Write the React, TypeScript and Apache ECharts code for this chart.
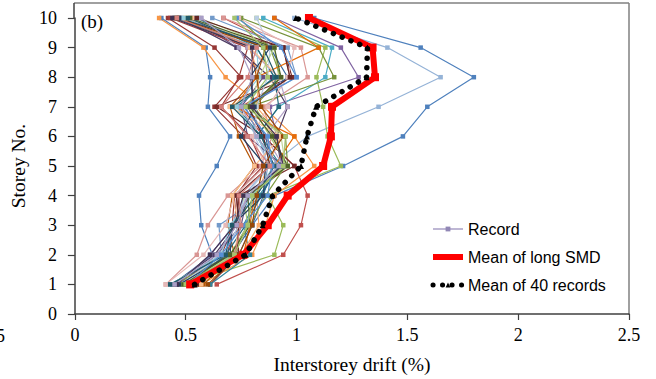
import { useEffect, useRef } from 'react';
import * as echarts from 'echarts';

const storeys = [1, 2, 3, 4, 5, 6, 7, 8, 9, 10];
const yTickValues = [0, 1, 2, 3, 4, 5, 6, 7, 8, 9, 10];
const xTickValues = [0, 0.5, 1, 1.5, 2, 2.5];

const meanLongSMD = [0.52, 0.76, 0.87, 0.96, 1.12, 1.155, 1.16, 1.354, 1.343, 1.056];
const meanOf40Records = [0.54, 0.77, 0.847, 0.892, 1.02, 1.047, 1.088, 1.316, 1.32, 0.997];

// Interstorey drift (%) of each record, storey 1 -> 10
const records = [
  [0.44, 0.62, 0.57, 0.56, 0.64, 0.70, 0.60, 0.61, 0.59, 0.39],
  [0.57, 0.74, 0.80, 0.90, 1.21, 1.48, 1.59, 1.80, 1.56, 1.08],
  [0.50, 0.68, 0.74, 0.76, 0.88, 1.05, 1.37, 1.65, 1.41, 0.99],
  [0.64, 0.94, 1.02, 1.05, 0.99, 0.85, 0.75, 0.97, 0.94, 0.67],
  [0.49, 0.90, 0.94, 0.87, 1.20, 1.14, 1.12, 1.09, 1.13, 0.82],
  [0.57, 0.80, 0.86, 0.90, 1.08, 0.99, 0.85, 0.68, 0.58, 0.38],
  [0.46, 0.66, 0.72, 0.73, 0.82, 0.76, 0.63, 0.75, 0.63, 0.42],
  [0.46, 0.61, 0.72, 0.78, 0.94, 0.91, 0.88, 1.28, 1.20, 0.90],
  [0.43, 0.68, 0.70, 0.82, 0.90, 0.82, 0.92, 1.13, 1.16, 0.85],
  [0.41, 0.55, 0.60, 0.69, 0.84, 0.89, 0.85, 1.05, 1.02, 0.67],
  [0.50, 0.70, 0.78, 0.80, 0.96, 0.95, 0.79, 1.17, 1.10, 0.75],
  [0.58, 0.72, 0.69, 0.71, 0.81, 0.74, 0.70, 0.82, 0.79, 0.47],
  [0.48, 0.66, 0.65, 0.85, 0.87, 0.83, 0.77, 1.00, 0.96, 0.62],
  [0.61, 0.74, 0.73, 0.74, 0.99, 0.85, 0.64, 0.98, 0.94, 0.45],
  [0.47, 0.64, 0.75, 0.78, 0.94, 0.78, 0.75, 0.85, 0.73, 0.53],
  [0.61, 0.79, 0.76, 0.83, 0.93, 0.84, 0.73, 0.90, 0.82, 0.55],
  [0.52, 0.70, 0.78, 0.76, 0.96, 0.88, 0.80, 0.92, 0.90, 0.56],
  [0.55, 0.75, 0.83, 0.82, 0.87, 0.93, 0.82, 0.83, 0.79, 0.50],
  [0.53, 0.71, 0.80, 0.85, 0.89, 0.86, 0.78, 0.96, 0.88, 0.48],
  [0.50, 0.69, 0.71, 0.72, 0.85, 0.79, 0.66, 0.74, 0.78, 0.43],
  [0.45, 0.70, 0.79, 0.86, 0.95, 0.90, 0.81, 0.93, 0.88, 0.74],
  [0.44, 0.63, 0.73, 0.79, 0.93, 0.91, 0.96, 0.88, 0.73, 0.47],
  [0.52, 0.68, 0.77, 0.84, 0.92, 0.82, 0.92, 0.90, 0.82, 0.45],
  [0.56, 0.76, 0.79, 0.81, 0.90, 0.99, 0.72, 0.82, 1.10, 0.90],
  [0.47, 0.67, 0.74, 0.77, 0.88, 0.81, 0.82, 0.87, 0.88, 0.82],
  [0.41, 0.58, 0.68, 0.72, 0.86, 0.80, 0.87, 0.96, 0.99, 0.74],
  [0.48, 0.72, 0.78, 0.80, 0.95, 0.93, 0.79, 0.83, 0.90, 0.50],
  [0.46, 0.61, 0.72, 0.78, 0.94, 0.86, 0.96, 0.92, 0.78, 0.57],
  [0.43, 0.66, 0.70, 0.80, 0.90, 0.82, 0.73, 0.83, 0.82, 0.49],
  [0.57, 0.72, 0.74, 0.71, 0.81, 0.93, 0.70, 0.92, 0.79, 0.53],
  [0.47, 0.70, 0.71, 0.85, 0.86, 0.75, 0.81, 0.79, 0.88, 0.47],
  [0.55, 0.73, 0.74, 0.73, 0.88, 0.85, 0.78, 0.97, 0.94, 0.55],
  [0.49, 0.70, 0.79, 0.78, 0.96, 0.89, 0.79, 0.93, 0.90, 0.52],
  [0.46, 0.61, 0.72, 0.76, 0.94, 0.91, 0.80, 0.80, 0.80, 0.44],
  [0.43, 0.68, 0.71, 0.82, 0.90, 0.84, 0.71, 0.91, 0.85, 0.51],
  [0.60, 0.74, 0.80, 0.82, 0.85, 0.94, 0.84, 0.82, 0.86, 0.46],
  [0.51, 0.66, 0.76, 0.87, 0.89, 0.87, 0.76, 1.00, 0.93, 0.73],
  [0.54, 0.72, 0.75, 0.74, 0.88, 0.78, 0.66, 0.78, 0.82, 0.46],
  [0.50, 0.72, 0.78, 0.80, 0.94, 0.95, 0.77, 0.87, 0.85, 0.72],
  [0.45, 0.64, 0.73, 0.78, 0.92, 0.82, 0.75, 0.80, 0.74, 0.57],
];

const recordColors = [
  '#4F81BD', '#4F81BD', '#95B3D7', '#C0504D', '#9BBB59', '#F79646',
  '#953735', '#8064A2', '#4BACC6', '#D99694', '#77933C', '#B65708',
  '#729ACA', '#772C2A', '#664F83', '#31859C', '#AFC97A', '#F9AB6B',
  '#3A679C', '#9F3B38', '#7E9C40', '#4D3B62', '#276A7C', '#E46C0A',
  '#B9CDE5', '#E6B9B8', '#C3D69B', '#B3A2C7', '#93CDDD', '#FAC090',
  '#254061', '#632523', '#4F6228', '#403152', '#215968', '#984807',
  '#558ED5', '#D47F7C', '#A6C46E', '#A99FC6',
];

const legendNames = ['Record', 'Mean of long SMD', 'Mean of 40 records'];
const panelLabel = '(b)';
const xAxisTitle = 'Interstorey drift (%)';
const yAxisTitle = 'Storey No.';

const serif = '"Liberation Serif", "Times New Roman", serif';
const sans = '"Liberation Sans", Arial, sans-serif';

export default function App() {
  const ref = useRef<HTMLDivElement>(null);

  useEffect(() => {
    if (!ref.current) return;
    const chart = echarts.init(ref.current, undefined, { renderer: 'svg' });

    const toPairs = (vals: number[]) => vals.map((v, i) => [v, storeys[i]]);

    const recordSeries = records.map((vals, i) => ({
      name: `Record ${i + 1}`,
      type: 'line',
      data: toPairs(vals),
      symbol: 'rect',
      symbolSize: 4.5,
      showSymbol: true,
      lineStyle: { color: recordColors[i], width: 1.2 },
      itemStyle: { color: recordColors[i] },
      emphasis: { disabled: true },
      z: 2,
    }));

    const option: any = {
      animation: false,
      backgroundColor: '#ffffff',
      grid: { left: 74, right: 27, top: 18, bottom: 64, containLabel: false },
      xAxis: {
        type: 'value',
        min: 0,
        max: 2.5,
        interval: 0.5,
        name: xAxisTitle,
        nameLocation: 'middle',
        nameGap: 40,
        nameTextStyle: { fontFamily: serif, fontSize: 19.5, color: '#000' },
        axisLine: { show: true, onZero: false, lineStyle: { color: '#404040', width: 1.5 } },
        axisTick: { show: true, inside: false, length: 6, lineStyle: { color: '#404040', width: 1.2 } },
        axisLabel: {
          fontFamily: serif,
          fontSize: 18,
          color: '#000',
          margin: 12,
          customValues: xTickValues,
          formatter: (v: number) => String(v),
        },
        splitLine: { show: false },
      },
      yAxis: {
        type: 'value',
        min: 0,
        max: 10,
        interval: 1,
        name: yAxisTitle,
        nameLocation: 'middle',
        nameGap: 44,
        nameRotate: 90,
        nameTextStyle: { fontFamily: serif, fontSize: 19.5, color: '#000' },
        axisLine: { show: true, onZero: false, lineStyle: { color: '#404040', width: 1.5 } },
        axisTick: { show: true, inside: false, length: 7, lineStyle: { color: '#404040', width: 1.2 } },
        axisLabel: {
          fontFamily: serif,
          fontSize: 18,
          color: '#000',
          margin: 18,
          customValues: yTickValues,
        },
        splitLine: { show: false },
      },
      legend: {
        orient: 'vertical',
        left: 425,
        top: 216,
        itemWidth: 30,
        itemHeight: 6,
        itemGap: 12,
        selectedMode: false,
        textStyle: { fontFamily: sans, fontSize: 16, color: '#000' },
        data: [
          { name: legendNames[0], lineStyle: { width: 1.5 } },
          { name: legendNames[1], lineStyle: { width: 6 } },
          { name: legendNames[2], lineStyle: { width: 5 } },
        ],
      },
      graphic: [
        {
          type: 'line',
          shape: { x1: 74, y1: 3, x2: 629, y2: 3 },
          style: { stroke: '#808080', lineWidth: 1.5 },
          silent: true,
        },
        {
          type: 'line',
          shape: { x1: 629, y1: 3, x2: 629, y2: 315 },
          style: { stroke: '#808080', lineWidth: 1.5 },
          silent: true,
        },
        {
          type: 'line',
          shape: { x1: 74, y1: 3, x2: 74, y2: 18 },
          style: { stroke: '#404040', lineWidth: 1.5 },
          silent: true,
        },
        {
          type: 'text',
          x: 81,
          y: 12,
          style: { text: panelLabel, font: `19px ${serif}`, fill: '#000' },
          silent: true,
        },
        {
          type: 'text',
          x: -4,
          y: 327,
          style: { text: '5', font: `18px ${serif}`, fill: '#000' },
          silent: true,
        },
      ],
      series: [
        {
          name: legendNames[0],
          type: 'line',
          data: [],
          symbol: 'rect',
          symbolSize: 4.5,
          lineStyle: { color: '#A99FC6', width: 1.5 },
          itemStyle: { color: '#9187B5' },
        },
        ...recordSeries,
        {
          name: legendNames[1],
          type: 'line',
          data: toPairs(meanLongSMD),
          symbol: 'rect',
          symbolSize: 8,
          lineStyle: { color: '#FF0000', width: 6 },
          itemStyle: { color: '#FF0000' },
          emphasis: { disabled: true },
          z: 5,
        },
        {
          name: legendNames[2],
          type: 'line',
          data: toPairs(meanOf40Records),
          symbol: 'triangle',
          symbolSize: 6,
          lineStyle: { color: '#000000', width: 5.5, type: [0.1, 9.4], cap: 'round' },
          itemStyle: { color: '#000000' },
          emphasis: { disabled: true },
          z: 6,
        },
      ],
    };

    chart.setOption(option);
    return () => chart.dispose();
  }, []);

  return <div ref={ref} style={{ width: 656, height: 379, position: 'fixed', left: 0, top: 0 }} />;
}
